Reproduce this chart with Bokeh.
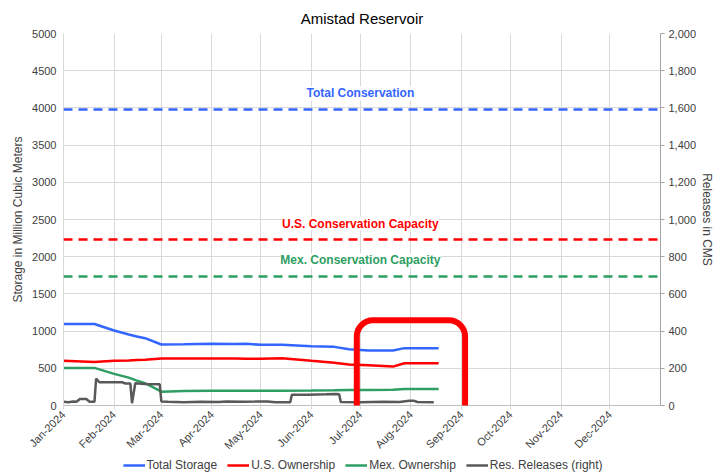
import pandas as pd
from math import pi
from bokeh.plotting import figure
from bokeh.layouts import column
from bokeh.models import (Range1d, LinearAxis, FixedTicker, DatetimeTickFormatter,
                          NumeralTickFormatter, Span, Label, Legend, LegendItem)
from bokeh.embed import file_html
from bokeh.resources import INLINE

FONT = "Liberation Sans"

# ---- data ----
storage_dates = ["2024-01-01", "2024-01-20", "2024-02-01", "2024-02-10", "2024-02-15", "2024-02-20",
                 "2024-03-01", "2024-03-15", "2024-04-01", "2024-04-15", "2024-04-22", "2024-05-01",
                 "2024-05-14", "2024-06-01", "2024-06-15", "2024-06-24", "2024-07-06", "2024-07-21",
                 "2024-07-28", "2024-08-18"]
total_storage = [1095, 1095, 1008, 955, 927, 905, 820, 822, 829, 826, 829, 815,
                 818, 798, 788, 757, 739, 739, 771, 771]
us_ownership = [600, 586, 600, 605, 610, 615, 631, 631, 631, 631, 630, 627,
                636, 600, 575, 550, 540, 523, 568, 568]
mex_ownership = [505, 505, 425, 375, 334, 300, 186, 195, 197, 197, 197, 197,
                 198, 200, 205, 209, 210, 213, 222, 222]

release_dates = ["2024-01-01", "2024-01-04", "2024-01-07", "2024-01-09", "2024-01-11", "2024-01-15",
                 "2024-01-17", "2024-01-20", "2024-01-21", "2024-01-23", "2024-02-06", "2024-02-08",
                 "2024-02-11", "2024-02-12", "2024-02-14", "2024-02-20", "2024-02-29", "2024-03-01",
                 "2024-03-05", "2024-03-15", "2024-03-25", "2024-04-05", "2024-04-10", "2024-04-20",
                 "2024-04-28", "2024-05-05", "2024-05-10", "2024-05-19", "2024-05-20", "2024-05-30",
                 "2024-06-10", "2024-06-16", "2024-06-18", "2024-06-19", "2024-07-01", "2024-07-15",
                 "2024-07-25", "2024-07-31", "2024-08-03", "2024-08-05", "2024-08-15"]
res_releases = [20, 18, 22, 20, 35, 35, 20, 20, 145, 125, 125, 118,
                118, 12, 120, 116, 114, 22, 20, 18, 20, 19, 22, 20,
                21, 22, 18, 18, 58, 58, 60, 62, 60, 19, 18, 20,
                19, 26, 25, 19, 18]

total_conservation = 3980
us_conservation = 2230
mex_conservation = 1735

series_names = ["Total Storage", "U.S. Ownership", "Mex. Ownership", "Res. Releases (right)"]

month_ticks = ["2024-%02d-01" % m for m in range(1, 13)] + ["2025-01-01"]
left_ticks = list(range(0, 5001, 500))
right_ticks = list(range(0, 2001, 200))

C_BLUE = "#3366ff"
C_RED = "#ff0000"
C_GREEN = "#2e9e62"
C_GRAY = "#595959"
TXT = "#404040"
series_colors = [C_BLUE, C_RED, C_GREEN, C_GRAY]

def ts(s):
    return pd.Timestamp(s)

def ms(s):
    return pd.Timestamp(s).value // 10**6

p = figure(frame_width=597, frame_height=372, x_axis_type="datetime", output_backend="svg",
           toolbar_location=None,
           x_range=Range1d(ts("2024-01-01"), ts("2025-01-01")),
           y_range=Range1d(0, 5000), margin=(0, 0, 0, 8))
p.extra_y_ranges = {"rel": Range1d(0, 2000)}

p.title.text = "Amistad Reservoir"
p.title.align = "center"
p.title.text_font = FONT
p.title.text_font_size = "15px"
p.title.text_font_style = "normal"
p.title.text_color = "#000000"
p.title.standoff = 14

p.outline_line_color = None
p.background_fill_color = "white"
p.border_fill_color = "white"

# grids
p.xgrid.ticker = FixedTicker(ticks=[ms(d) for d in month_ticks])
p.ygrid.ticker = FixedTicker(ticks=left_ticks)
p.xgrid.grid_line_color = "#d9d9d9"
p.ygrid.grid_line_color = "#d9d9d9"

# x axis
xa = p.xaxis[0]
xa.ticker = FixedTicker(ticks=[ms(d) for d in month_ticks[:-1]])
xa.formatter = DatetimeTickFormatter(days="%b-%Y", months="%b-%Y", years="%b-%Y")
xa.major_label_orientation = pi / 4
xa.axis_line_color = "#bfbfbf"
xa.major_tick_line_color = "#d9d9d9"
xa.major_tick_out = 4
xa.major_tick_in = 0
xa.major_label_standoff = 3
xa.minor_tick_line_color = None
xa.major_label_text_font = FONT
xa.major_label_text_font_size = "11px"
xa.major_label_text_color = TXT

# left axis
ya = p.yaxis[0]
ya.ticker = FixedTicker(ticks=left_ticks)
ya.axis_label = "Storage in Million Cubic Meters"
ya.axis_line_color = "#d9d9d9"
ya.major_tick_line_color = None
ya.major_tick_out = 0
ya.major_tick_in = 0
ya.major_label_standoff = 7
ya.minor_tick_line_color = None
ya.major_label_text_font = FONT
ya.major_label_text_font_size = "11px"
ya.major_label_text_color = TXT
ya.axis_label_text_font = FONT
ya.axis_label_text_font_size = "12px"
ya.axis_label_text_font_style = "normal"
ya.axis_label_text_color = TXT
ya.axis_label_standoff = 4

# right axis
ra = LinearAxis(y_range_name="rel", ticker=FixedTicker(ticks=right_ticks),
                formatter=NumeralTickFormatter(format="0,0"),
                axis_label="Releases in CMS")
ra.axis_line_color = "#a6a6a6"
ra.major_tick_line_color = "#a6a6a6"
ra.major_tick_out = 4
ra.major_tick_in = 0
ra.minor_tick_line_color = None
ra.major_label_standoff = 4
ra.major_label_text_font = FONT
ra.major_label_text_font_size = "11px"
ra.major_label_text_color = TXT
ra.axis_label_text_font = FONT
ra.axis_label_text_font_size = "12px"
ra.axis_label_text_font_style = "normal"
ra.axis_label_text_color = TXT
ra.axis_label_standoff = 1
p.add_layout(ra, "right")

# conservation lines
for val, col in [(total_conservation, C_BLUE), (us_conservation, C_RED), (mex_conservation, C_GREEN)]:
    p.add_layout(Span(location=val, dimension="width", line_color=col, line_width=2.5,
                      line_dash="9 6"))

for txt, val, col in [("Total Conservation", total_conservation, C_BLUE),
                      ("U.S. Conservation Capacity", us_conservation, C_RED),
                      ("Mex. Conservation Capacity", mex_conservation, C_GREEN)]:
    p.add_layout(Label(x=ts("2024-07-01"), y=val, y_offset=9, text=txt, text_align="center",
                       text_baseline="bottom", text_font=FONT, text_font_size="12px",
                       text_font_style="bold", text_color=col,
                       background_fill_color="white", background_fill_alpha=1.0))

sd = [ts(d) for d in storage_dates]
rd = [ts(d) for d in release_dates]
p.line(sd, total_storage, line_color=C_BLUE, line_width=2.5)
p.line(sd, us_ownership, line_color=C_RED, line_width=2.5)
p.line(sd, mex_ownership, line_color=C_GREEN, line_width=2.5)
p.line(rd, res_releases, line_color=C_GRAY, line_width=2.5, y_range_name="rel")

# highlight box (rounded rectangle around the latest data)
p.add_layout(Label(x=ts("2024-08-01"), y=465, text=" ", text_font_size="1px",
                   text_align="center", text_baseline="middle", level="overlay",
                   padding=(54, 50), border_line_color=C_RED, border_line_width=6,
                   border_line_alpha=1.0, border_radius=16,
                   background_fill_color=None))

# legend strip below the chart (single-point proxies only carry the legend style)
lg = figure(width=699, height=14, output_backend="svg", toolbar_location=None,
            x_axis_type=None, y_axis_type=None, min_border=0, margin=(0, 0, 0, 14),
            x_range=Range1d(0, 1), y_range=Range1d(0, 1))
lg.outline_line_color = None
lg.xgrid.visible = False
lg.ygrid.visible = False
first_x = [sd[0], sd[0], sd[0], rd[0]]
first_y = [total_storage[0], us_ownership[0], mex_ownership[0], res_releases[0]]
items = []
for name, col, fx, fy in zip(series_names, series_colors, first_x, first_y):
    r = lg.line(x=[fx], y=[fy], line_color=col, line_width=2.5)
    items.append(LegendItem(label=name, renderers=[r]))
legend = Legend(items=items, orientation="horizontal", location="center")
legend.border_line_color = None
legend.background_fill_alpha = 0
legend.label_text_font = FONT
legend.label_text_font_size = "12px"
legend.label_text_color = TXT
legend.glyph_width = 22
legend.glyph_height = 14
legend.label_height = 14
legend.label_standoff = 2
legend.spacing = 10
legend.padding = 0
legend.margin = 0
lg.add_layout(legend)

layout = column(p, lg, spacing=0)
open("out.html", "w").write(file_html(layout, INLINE))
